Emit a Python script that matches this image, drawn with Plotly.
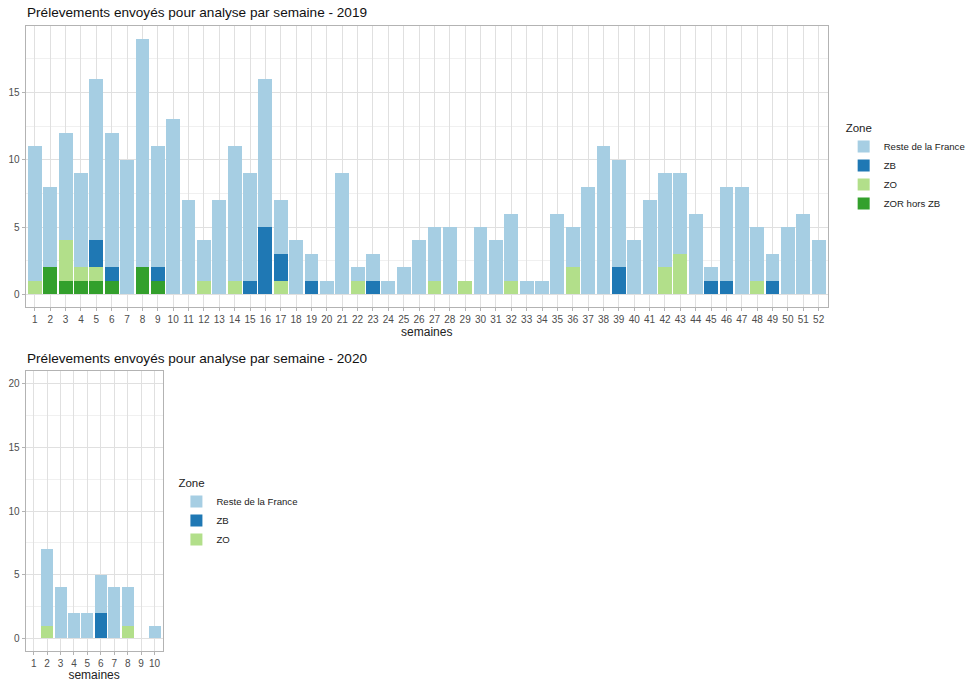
import plotly.graph_objects as go

# ---- Data 2019 ----
weeks_2019 = list(range(1, 53))
reste_2019 = [10, 6, 8, 7, 12, 10, 10, 17, 9, 13, 7, 3, 7, 10, 8, 11, 4, 4, 2, 1,
              9, 1, 2, 1, 2, 4, 4, 5, 0, 5, 4, 5, 1, 1, 6, 3, 8, 11, 8, 4,
              7, 7, 6, 6, 1, 7, 8, 4, 2, 5, 6, 4]
zb_2019 = [0, 0, 0, 0, 2, 1, 0, 0, 1, 0, 0, 0, 0, 0, 1, 5, 2, 0, 1, 0,
           0, 0, 1, 0, 0, 0, 0, 0, 0, 0, 0, 0, 0, 0, 0, 0, 0, 0, 2, 0,
           0, 0, 0, 0, 1, 1, 0, 0, 1, 0, 0, 0]
zo_2019 = [1, 0, 3, 1, 1, 0, 0, 0, 0, 0, 0, 1, 0, 1, 0, 0, 1, 0, 0, 0,
           0, 1, 0, 0, 0, 0, 1, 0, 1, 0, 0, 1, 0, 0, 0, 2, 0, 0, 0, 0,
           0, 2, 3, 0, 0, 0, 0, 1, 0, 0, 0, 0]
zor_2019 = [0, 2, 1, 1, 1, 1, 0, 2, 1, 0, 0, 0, 0, 0, 0, 0, 0, 0, 0, 0,
            0, 0, 0, 0, 0, 0, 0, 0, 0, 0, 0, 0, 0, 0, 0, 0, 0, 0, 0, 0,
            0, 0, 0, 0, 0, 0, 0, 0, 0, 0, 0, 0]

# ---- Data 2020 ----
weeks_2020 = list(range(1, 11))
reste_2020 = [0, 6, 4, 2, 2, 3, 4, 3, 0, 1]
zb_2020 = [0, 0, 0, 0, 0, 2, 0, 0, 0, 0]
zo_2020 = [0, 1, 0, 0, 0, 0, 0, 1, 0, 0]

zones = ["Reste de la France", "ZB", "ZO", "ZOR hors ZB"]
colors = {"Reste de la France": "#A6CEE3", "ZB": "#1F78B4",
          "ZO": "#B2DF8A", "ZOR hors ZB": "#33A02C"}

title_2019 = "Prélevements envoyés pour analyse par semaine - 2019"
title_2020 = "Prélevements envoyés pour analyse par semaine - 2020"
x_title = "semaines"

FONT = "Liberation Sans, Arial, sans-serif"
W, H = 971, 682

fig = go.Figure()

series_2019 = [("ZOR hors ZB", zor_2019), ("ZO", zo_2019), ("ZB", zb_2019),
               ("Reste de la France", reste_2019)]
for name, vals in series_2019:
    fig.add_trace(go.Bar(x=weeks_2019, y=vals, name=name,
                         marker=dict(color=colors[name], line=dict(width=0)),
                         legendrank=zones.index(name) + 1,
                         xaxis="x", yaxis="y", legend="legend"))

series_2020 = [("ZO", zo_2020), ("ZB", zb_2020), ("Reste de la France", reste_2020)]
for name, vals in series_2020:
    fig.add_trace(go.Bar(x=weeks_2020, y=vals, name=name,
                         marker=dict(color=colors[name], line=dict(width=0)),
                         legendrank=zones.index(name) + 1,
                         xaxis="x2", yaxis="y2", legend="legend2"))

grid_major = "#E0E0E0"
grid_minor = "#F0F0F0"
border = "#B3B3B3"
tickfont = dict(family=FONT, size=10, color="#4D4D4D")


def xax(domain, rng, anchor):
    return dict(domain=domain, range=rng, anchor=anchor, tickmode="linear", dtick=1, tick0=1,
                showgrid=True, gridcolor=grid_major, gridwidth=1,
                showline=True, mirror=True, linecolor=border, linewidth=1,
                ticks="outside", ticklen=3, tickcolor=border, tickfont=tickfont,
                zeroline=False, fixedrange=True,
                title=dict(text=x_title, font=dict(family=FONT, size=12, color="#222"), standoff=1))


def yax(domain, rng, anchor):
    return dict(domain=domain, range=rng, anchor=anchor, tickmode="linear", dtick=5, tick0=0,
                showgrid=True, gridcolor=grid_major, gridwidth=1,
                minor=dict(showgrid=True, dtick=2.5, tick0=0, gridcolor=grid_minor, gridwidth=1),
                showline=True, mirror=True, linecolor=border, linewidth=1,
                ticks="outside", ticklen=3, tickcolor=border, tickfont=tickfont,
                zeroline=False, fixedrange=True)


legend_common = dict(xanchor="left", yanchor="top", traceorder="normal", tracegroupgap=0,
                     title=dict(text="Zone", font=dict(family=FONT, size=11.5, color="#222")),
                     font=dict(family=FONT, size=9.6, color="#222"), bgcolor="rgba(0,0,0,0)",
                     itemwidth=30)

fig.update_layout(
    width=W, height=H,
    margin=dict(l=0, r=0, t=0, b=0),
    paper_bgcolor="white", plot_bgcolor="white",
    barmode="stack", bargap=0.1,
    font=dict(family=FONT, size=10, color="#222"),
    xaxis=xax([26 / W, 840 / W], [0.4, 52.6], "y"),
    yaxis=yax([1 - 307 / H, 1 - 26 / H], [-0.95, 19.95], "x"),
    xaxis2=xax([26 / W, 165 / W], [0.4, 10.6], "y2"),
    yaxis2=yax([1 - 651 / H, 1 - 371 / H], [-1, 21], "x2"),
    legend=dict(x=856 / W, y=1 - 117 / H, **legend_common),
    legend2=dict(x=179 / W, y=1 - 472 / H, **legend_common),
    annotations=[
        dict(text=title_2019, xref="paper", yref="paper", x=25 / W, y=1 - 13 / H,
             xanchor="left", yanchor="middle", showarrow=False,
             font=dict(family=FONT, size=13.6, color="#111")),
        dict(text=title_2020, xref="paper", yref="paper", x=25 / W, y=1 - 358 / H,
             xanchor="left", yanchor="middle", showarrow=False,
             font=dict(family=FONT, size=13.6, color="#111")),
    ],
)

fig.write_html("out.html")
